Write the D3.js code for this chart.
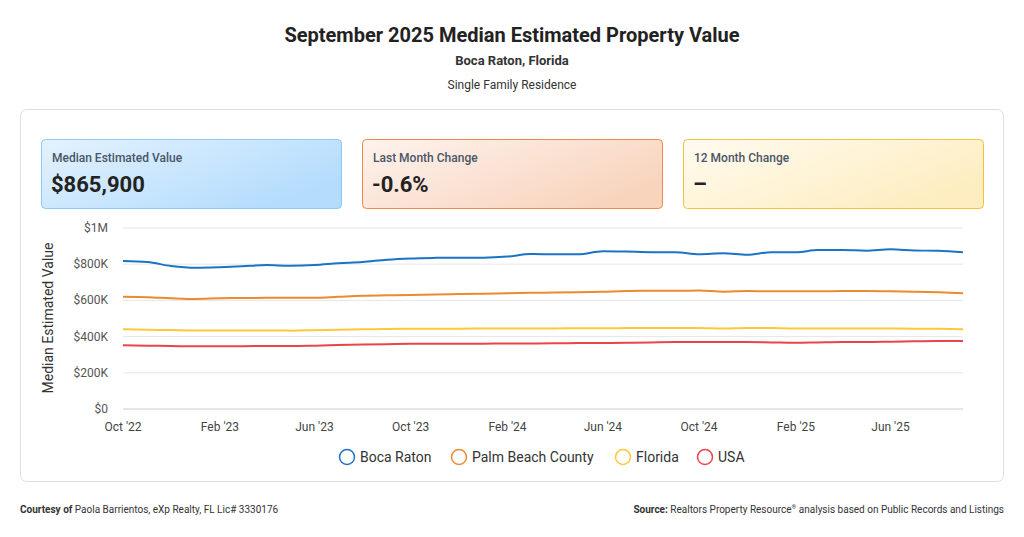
<!DOCTYPE html>
<html>
<head>
<meta charset="utf-8">
<script src="https://d3js.org/d3.v7.min.js"></script>
<style>
  body { margin: 0; font-family: Roboto, sans-serif; color: #222; background: #fff; }
  svg text { font-family: Roboto, sans-serif; }
</style>
</head>
<body>
<svg id="chart" width="1024" height="537"></svg>
<script>
var months = d3.range(36).map(i => new Date(2022, 9 + i, 1));
var boca = [818,812,790,780,783,788,795,792,795,805,812,825,832,835,836,836,842,856,855,855,872,870,866,866,855,860,852,866,866,878,878,875,882,876,874,866];
var palm = [620,618,612,608,612,613,614,615,614,620,626,628,630,633,635,637,640,642,643,645,648,652,653,653,655,648,652,650,650,650,652,652,650,648,645,640];
var florida = [440,438,436,434,434,434,434,433,435,438,440,442,443,444,444,445,445,445,445,446,446,447,448,448,448,445,448,447,445,445,445,445,445,444,443,440];
var usa = [352,350,348,346,346,347,348,348,350,353,356,358,360,361,361,361,362,362,363,364,365,366,368,370,370,370,370,368,366,368,370,370,372,374,376,376];
var seriesNames = ["Boca Raton", "Palm Beach County", "Florida", "USA"];
var seriesColors = ["#1a73c4", "#eb8a2e", "#fdc83a", "#e8454a"];
var cardLabels = ["Median Estimated Value", "Last Month Change", "12 Month Change"];
var cardValues = ["$865,900", "-0.6%", "–"];

var svg = d3.select("#chart");
var defs = svg.append("defs");

svg.append("text").attr("x", 512).attr("y", 42).attr("text-anchor", "middle")
  .attr("font-size", 20).attr("font-weight", 700).attr("fill", "#222")
  .text("September 2025 Median Estimated Property Value");
svg.append("text").attr("x", 512).attr("y", 65).attr("text-anchor", "middle")
  .attr("font-size", 13).attr("font-weight", 700).attr("fill", "#333").text("Boca Raton, Florida");
svg.append("text").attr("x", 512).attr("y", 89).attr("text-anchor", "middle")
  .attr("font-size", 12).attr("fill", "#333").text("Single Family Residence");

svg.append("rect").attr("x", 20.5).attr("y", 109.5).attr("width", 983).attr("height", 372)
  .attr("rx", 6).attr("fill", "#fff").attr("stroke", "#ddd");

// cards
var cardStyles = [
  {from: "#e4f2fe", to: "#b3dcfd", stroke: "#8cc8f8"},
  {from: "#fef3ee", to: "#f8d4bd", stroke: "#ec8a4a"},
  {from: "#fffbf0", to: "#fdedc0", stroke: "#f6c23a"}
];
cardStyles.forEach(function (s, i) {
  var g = defs.append("linearGradient").attr("id", "cg" + i)
    .attr("x1", "0%").attr("y1", "0%").attr("x2", "100%").attr("y2", "60%");
  g.append("stop").attr("offset", "0%").attr("stop-color", s.from);
  g.append("stop").attr("offset", "100%").attr("stop-color", s.to);
  var x0 = 41 + i * 321;
  svg.append("rect").attr("x", x0 + 0.5).attr("y", 139.5).attr("width", 300).attr("height", 69)
    .attr("rx", 4).attr("fill", "url(#cg" + i + ")").attr("stroke", s.stroke);
  svg.append("text").attr("x", x0 + 11).attr("y", 162).attr("font-size", 12).attr("font-weight", 500)
    .attr("fill", "#4a5568").text(cardLabels[i]);
  svg.append("text").attr("x", x0 + 10).attr("y", 192).attr("font-size", 22).attr("font-weight", 700)
    .attr("fill", "#222").text(cardValues[i]);
});

// chart
var x = d3.scaleTime().domain([months[0], months[35]]).range([123, 963]);
var y = d3.scaleLinear().domain([0, 1000]).range([409, 228]);

var yTicks = [0, 200, 400, 600, 800, 1000];
svg.append("g").selectAll("line").data(yTicks).join("line")
  .attr("x1", 123).attr("x2", 963).attr("y1", d => y(d)).attr("y2", d => y(d))
  .attr("stroke", d => d === 0 ? "#ccc" : "#e6e6e6");
svg.append("g").selectAll("text").data(yTicks).join("text")
  .attr("x", 108).attr("y", d => y(d) + 4).attr("text-anchor", "end")
  .attr("font-size", 12).attr("fill", "#555")
  .text(d => d === 0 ? "$0" : d === 1000 ? "$1M" : "$" + d + "K");

var xTicks = d3.range(0, 36, 4).map(i => months[i]);
svg.append("g").selectAll("text").data(xTicks).join("text")
  .attr("x", d => x(d)).attr("y", 431).attr("text-anchor", "middle")
  .attr("font-size", 12).attr("fill", "#444")
  .text(d => d3.timeFormat("%b '%y")(d));

svg.append("text").attr("transform", "translate(53,318) rotate(-90)")
  .attr("text-anchor", "middle").attr("font-size", 14).attr("fill", "#333")
  .text("Median Estimated Value");

var line = d3.line().x((d, i) => x(months[i])).y(d => y(d)).curve(d3.curveMonotoneX);
[boca, palm, florida, usa].forEach(function (vals, k) {
  svg.append("path").datum(vals).attr("d", line).attr("fill", "none")
    .attr("stroke", seriesColors[k]).attr("stroke-width", 2);
});

// legend
var legX = [347, 459, 623, 705];
seriesNames.forEach(function (n, k) {
  svg.append("circle").attr("cx", legX[k]).attr("cy", 457).attr("r", 7.5)
    .attr("fill", "#fff").attr("stroke", seriesColors[k]).attr("stroke-width", 1.5);
  svg.append("text").attr("x", legX[k] + 13).attr("y", 462).attr("font-size", 14)
    .attr("fill", "#333").text(n);
});

// footer
var f1 = svg.append("text").attr("x", 20).attr("y", 513).attr("font-size", 10).attr("fill", "#333");
f1.append("tspan").attr("font-weight", 700).text("Courtesy of ");
f1.append("tspan").text("Paola Barrientos, eXp Realty, FL Lic# 3330176");
var f2 = svg.append("text").attr("x", 1004).attr("y", 513).attr("text-anchor", "end").attr("font-size", 10).attr("fill", "#333");
f2.append("tspan").attr("font-weight", 700).text("Source: ");
f2.append("tspan").text("Realtors Property Resource");
f2.append("tspan").attr("font-size", 6).attr("dy", -4).text("®");
f2.append("tspan").attr("dy", 4).text(" analysis based on Public Records and Listings");
</script>
</body>
</html>
